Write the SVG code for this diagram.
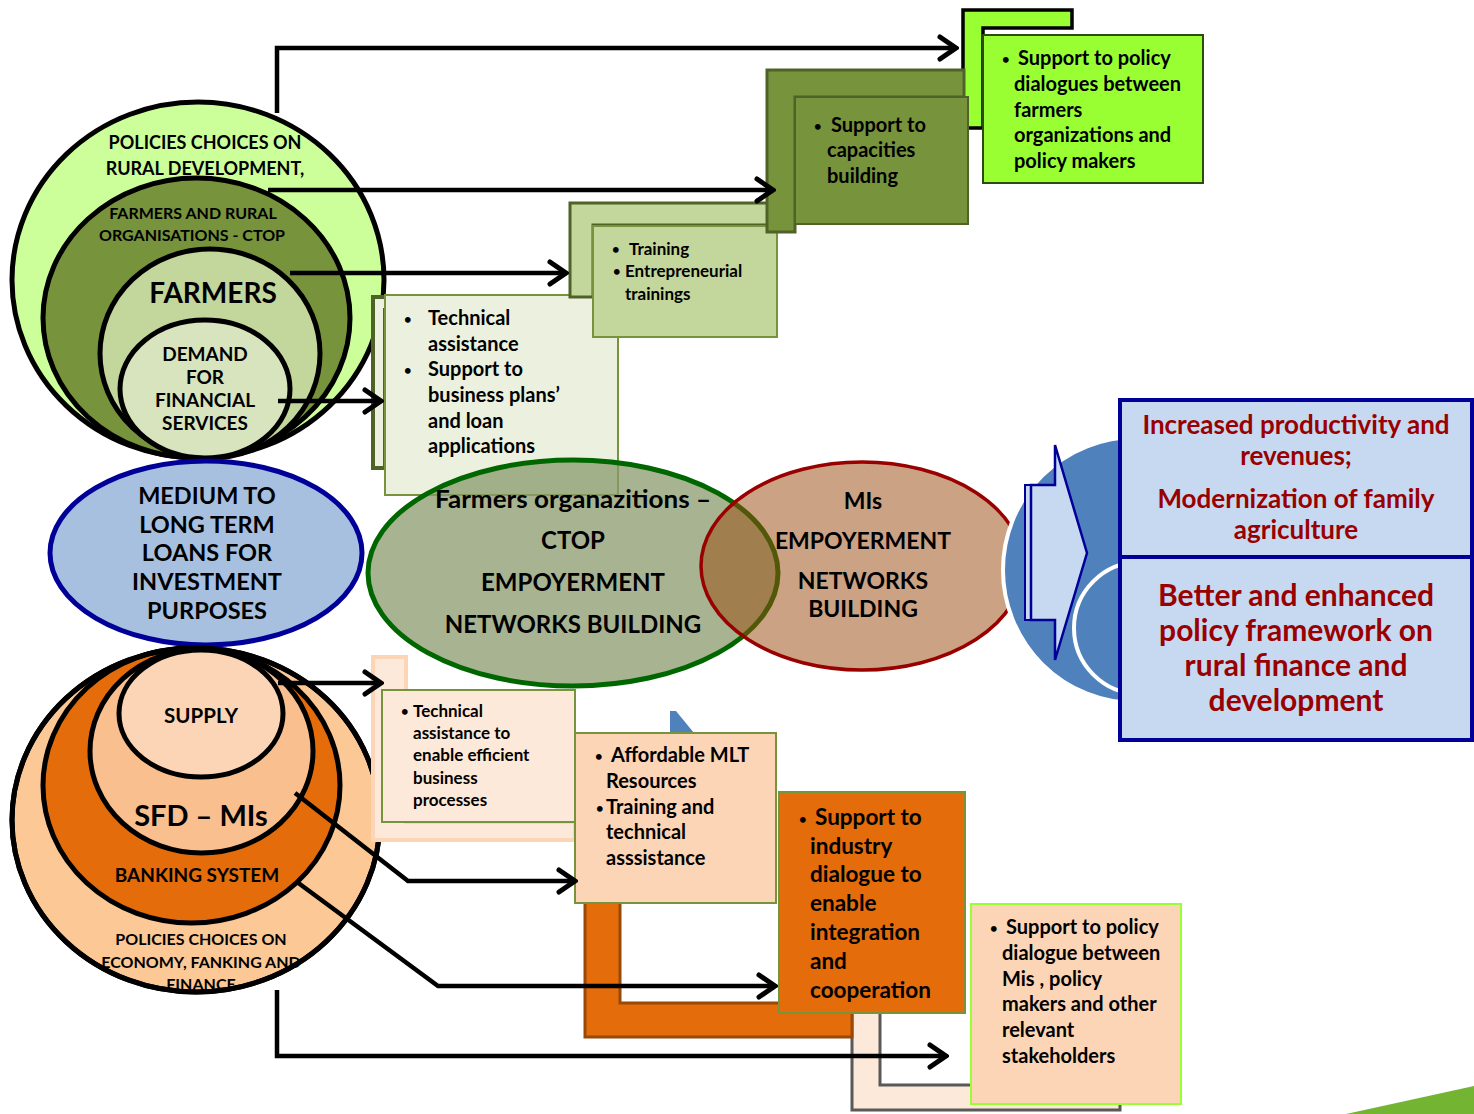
<svg xmlns="http://www.w3.org/2000/svg" width="1474" height="1114" viewBox="0 0 1474 1114">
<style>
text{font-family:Lato,"Liberation Sans",sans-serif;font-weight:bold;fill:#000}
.c{text-anchor:middle}
.ring{stroke:#000;stroke-width:5}
.conn{fill:none;stroke:#000;stroke-width:4.5}
.red{fill:#990000}
.b{font-size:13px}
</style>
<defs>
<marker id="arr" markerUnits="userSpaceOnUse" viewBox="0 0 22 28" markerWidth="22" markerHeight="28" refX="19" refY="14" orient="auto">
<path d="M3,3 L19,14 L3,25" fill="none" stroke="#000" stroke-width="5" stroke-linecap="round"/>
</marker>
</defs>
<rect width="1474" height="1114" fill="#fff"/>

<g id="farmers-circles">
<ellipse cx="198" cy="280" rx="186" ry="178" fill="#ccff99" class="ring"/>
<ellipse cx="196.5" cy="318" rx="153.5" ry="140" fill="#77933c" class="ring"/>
<ellipse cx="210" cy="353.5" rx="110" ry="104.5" fill="#c3d69b" class="ring"/>
<ellipse cx="205" cy="389" rx="85" ry="69" fill="#d7e4bd" class="ring"/>
<text class="c" x="205" y="149" font-size="18">POLICIES CHOICES ON</text>
<text class="c" x="205" y="175" font-size="18">RURAL DEVELOPMENT,</text>
<text class="c" x="193" y="219" font-size="16">FARMERS AND RURAL</text>
<text class="c" x="192" y="241" font-size="16">ORGANISATIONS  - CTOP</text>
<text class="c" x="213" y="303" font-size="28">FARMERS</text>
<text class="c" x="205" y="361" font-size="19">DEMAND</text>
<text class="c" x="205" y="384" font-size="19">FOR</text>
<text class="c" x="205" y="407" font-size="19">FINANCIAL</text>
<text class="c" x="205" y="430" font-size="19">SERVICES</text>
</g>

<g id="medium-loans">
<ellipse cx="206" cy="553" rx="156" ry="92" fill="#a7c0e0" stroke="#000099" stroke-width="5"/>
<text class="c" x="207" y="504" font-size="23.5">MEDIUM TO</text>
<text class="c" x="207" y="533" font-size="23.5">LONG TERM</text>
<text class="c" x="207" y="561" font-size="23.5">LOANS FOR</text>
<text class="c" x="207" y="590" font-size="23.5">INVESTMENT</text>
<text class="c" x="207" y="619" font-size="23.5">PURPOSES</text>
</g>

<g id="supply-circles">
<ellipse cx="196" cy="820" rx="184" ry="172" fill="#fcc896" class="ring"/>
<ellipse cx="191.5" cy="785.5" rx="148.5" ry="137.5" fill="#e46c0a" class="ring"/>
<ellipse cx="201.5" cy="751" rx="111.5" ry="102" fill="#f9bf8f" class="ring"/>
<ellipse cx="201" cy="713.5" rx="82" ry="63.5" fill="#fbd5b5" class="ring"/>
<text class="c" x="201" y="723" font-size="20.5">SUPPLY</text>
<text class="c" x="201" y="826" font-size="29">SFD – MIs</text>
<text class="c" x="197" y="882" font-size="19">BANKING SYSTEM</text>
<text class="c" x="201" y="945" font-size="16">POLICIES CHOICES ON</text>
<text class="c" x="201" y="968" font-size="16">ECONOMY, FANKING AND</text>
<text class="c" x="201" y="990" font-size="16">FINANCE</text>
<ellipse cx="196" cy="820" rx="184" ry="172" fill="none" class="ring"/>
</g>

<g id="box-technical-assistance">
<path d="M373,297 H600 V310 H385 V468 H373 Z" fill="#ebf1de" stroke="#4f6228" stroke-width="4"/>
<rect x="385" y="295" width="233" height="200" fill="#ebf1de" stroke="#77933c" stroke-width="2"/>
<text class="b" x="404" y="324">•</text><text x="428" y="325" font-size="20">Technical</text>
<text x="428" y="351" font-size="20">assistance</text>
<text class="b" x="404" y="375">•</text><text x="428" y="376" font-size="20">Support to</text>
<text x="428" y="402" font-size="20">business plans’</text>
<text x="428" y="428" font-size="20">and loan</text>
<text x="428" y="453" font-size="20">applications</text>
</g>

<g id="box-training">
<path d="M570,203 H780 V225 H593 V297 H570 Z" fill="#c3d69b" stroke="#4f6228" stroke-width="3"/>
<rect x="593" y="226" width="184" height="111" fill="#c3d69b" stroke="#77933c" stroke-width="2"/>
<text class="b" x="612" y="254">•</text><text x="629" y="255" font-size="17">Training</text>
<text class="b" x="613" y="276">•</text><text x="625" y="277" font-size="17">Entrepreneurial</text>
<text x="625" y="300" font-size="17">trainings</text>
</g>

<g id="box-policy-dialogues-farmers-back">
<path d="M963,10 H1072 V28 H983 V128 H963 Z" fill="#99ff33" stroke="#000" stroke-width="3.5"/>
</g>

<g id="box-capacities">
<path d="M767,70 H964 V97 H795 V232 H767 Z" fill="#77933c" stroke="#4f6228" stroke-width="3"/>
<rect x="795" y="97" width="173" height="127" fill="#77933c" stroke="#4f6228" stroke-width="2"/>
<text class="b" x="814" y="131">•</text><text x="831" y="132" font-size="20">Support to</text>
<text x="827" y="157" font-size="20">capacities</text>
<text x="827" y="183" font-size="20">building</text>
</g>

<g id="box-policy-dialogues-farmers">
<rect x="983" y="35" width="220" height="148" fill="#99ff33" stroke="#2d4a10" stroke-width="2"/>
<text class="b" x="1002" y="64">•</text><text x="1018" y="65" font-size="20">Support to policy</text>
<text x="1014" y="91" font-size="20">dialogues between</text>
<text x="1014" y="117" font-size="20">farmers</text>
<text x="1014" y="142" font-size="20">organizations and</text>
<text x="1014" y="168" font-size="20">policy makers</text>
</g>

<g id="venn-farmers">
<ellipse cx="573" cy="573" rx="205" ry="113" fill="#8a9a6c" fill-opacity="0.75" stroke="#006600" stroke-width="5"/>
</g>
<g id="venn-mis">
<ellipse cx="862" cy="566" rx="161" ry="104" fill="#9b4c11" fill-opacity="0.52" stroke="#990000" stroke-width="3.5"/>
</g>
<g id="venn-texts">
<text class="c" x="573" y="508" font-size="24" textLength="276" lengthAdjust="spacingAndGlyphs">Farmers organazitions –</text>
<text class="c" x="573" y="549" font-size="24">CTOP</text>
<text class="c" x="573" y="591" font-size="24">EMPOYERMENT</text>
<text class="c" x="573" y="633" font-size="24">NETWORKS BUILDING</text>
<text class="c" x="863" y="509" font-size="23">MIs</text>
<text class="c" x="863" y="549" font-size="23">EMPOYERMENT</text>
<text class="c" x="863" y="589" font-size="23">NETWORKS</text>
<text class="c" x="863" y="617" font-size="23">BUILDING</text>
</g>

<g id="outcome-circles">
<circle cx="1136" cy="570" r="133" fill="#4f81bd" stroke="#fff" stroke-width="4"/>
<circle cx="1140" cy="628" r="66" fill="#4f81bd" stroke="#fff" stroke-width="4"/>
</g>
<g id="outcome-arrow">
<rect x="1025" y="485" width="6" height="135" fill="#c6d9f1" stroke="#000099" stroke-width="2"/>
<path d="M1031,485 H1055 V445 L1087,553 L1055,660 V620 H1031 Z" fill="#c6d9f1" stroke="#000099" stroke-width="2.5"/>
</g>

<g id="outcome-productivity">
<rect x="1120" y="400" width="352" height="157" fill="#c6d9f1" stroke="#000099" stroke-width="4"/>
<text class="c red" x="1296" y="434" font-size="26">Increased productivity and</text>
<text class="c red" x="1296" y="465" font-size="26">revenues;</text>
<text class="c red" x="1296" y="508" font-size="26">Modernization of family</text>
<text class="c red" x="1296" y="539" font-size="26">agriculture</text>
</g>
<g id="outcome-policy">
<rect x="1120" y="557" width="352" height="183" fill="#c6d9f1" stroke="#000099" stroke-width="4"/>
<text class="c red" x="1296" y="606" font-size="30">Better and enhanced</text>
<text class="c red" x="1296" y="641" font-size="30">policy framework on</text>
<text class="c red" x="1296" y="676" font-size="30">rural finance and</text>
<text class="c red" x="1296" y="711" font-size="30">development</text>
</g>

<g id="box-efficient-processes">
<path d="M373,657 H406 V822 H575 V840 H373 Z" fill="#fde9d9" stroke="#fbd5b5" stroke-width="4"/>
<rect x="382" y="690" width="193" height="132" fill="#fde9d9" stroke="#77933c" stroke-width="2"/>
<text class="b" x="401" y="716">•</text><text x="413" y="717" font-size="17">Technical</text>
<text x="413" y="739" font-size="17">assistance to</text>
<text x="413" y="761" font-size="17">enable efficient</text>
<text x="413" y="784" font-size="17">business</text>
<text x="413" y="806" font-size="17">processes</text>
</g>

<g id="blue-corner">
<path d="M670,711 L676,711 L694,733 L670,733 Z" fill="#4f81bd"/>
</g>

<g id="box-stakeholders-back">
<path d="M852,1000 H880 V1085 H1120 V1110 H852 Z" fill="#fde9d9" stroke="#595959" stroke-width="3"/>
</g>

<g id="box-mlt-resources">
<path d="M585,880 H620 V1003 H852 V1037 H585 Z" fill="#e46c0a" stroke="#984807" stroke-width="3"/>
<rect x="575" y="733" width="201" height="170" fill="#fbd5b5" stroke="#77933c" stroke-width="2"/>
<text class="b" x="595" y="761">•</text><text x="611" y="762" font-size="20">Affordable MLT</text>
<text x="606" y="788" font-size="20">Resources</text>
<text class="b" x="596" y="813">•</text><text x="606" y="814" font-size="20">Training and</text>
<text x="606" y="839" font-size="20">technical</text>
<text x="606" y="865" font-size="20">asssistance</text>
</g>

<g id="box-industry-dialogue">
<rect x="779" y="792" width="186" height="221" fill="#e46c0a" stroke="#77933c" stroke-width="2"/>
<text class="b" x="799" y="824">•</text><text x="815" y="825" font-size="22.5">Support to</text>
<text x="810" y="854" font-size="22.5">industry</text>
<text x="810" y="882" font-size="22.5">dialogue to</text>
<text x="810" y="911" font-size="22.5">enable</text>
<text x="810" y="940" font-size="22.5">integration</text>
<text x="810" y="969" font-size="22.5">and</text>
<text x="810" y="998" font-size="22.5">cooperation</text>
</g>

<g id="box-policy-dialogue-mis">
<rect x="971" y="904" width="210" height="200" fill="#fbd5b5" stroke="#99ff33" stroke-width="2"/>
<text class="b" x="990" y="933">•</text><text x="1006" y="934" font-size="20">Support to policy</text>
<text x="1002" y="960" font-size="20">dialogue between</text>
<text x="1002" y="986" font-size="20">Mis , policy</text>
<text x="1002" y="1011" font-size="20">makers and other</text>
<text x="1002" y="1037" font-size="20">relevant</text>
<text x="1002" y="1063" font-size="20">stakeholders</text>
</g>

<g id="connectors">
<path class="conn" d="M277,113 V48 H956" marker-end="url(#arr)"/>
<path class="conn" d="M268,190 H773" marker-end="url(#arr)"/>
<path class="conn" d="M290,273 H566" marker-end="url(#arr)"/>
<path class="conn" d="M278,401 H381" marker-end="url(#arr)"/>
<path class="conn" d="M278,683 H381" marker-end="url(#arr)"/>
<path class="conn" d="M295,793 L408,881 H575" marker-end="url(#arr)"/>
<path class="conn" d="M297,882 L438,986 H775" marker-end="url(#arr)"/>
<path class="conn" d="M277,990 V1056 H946" marker-end="url(#arr)"/>
</g>

<g id="corner-decoration">
<path d="M1346,1114 L1474,1086 V1114 Z" fill="#73b532"/>
</g>
</svg>
